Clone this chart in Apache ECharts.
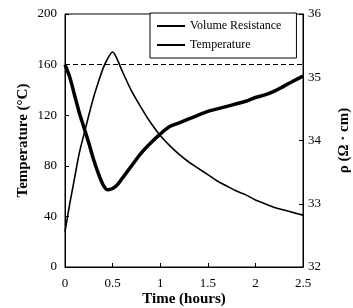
<!DOCTYPE html>
<html>
<head>
<meta charset="utf-8">
<script src="https://cdn.jsdelivr.net/npm/echarts@6/dist/echarts.min.js"></script>
<style>
html, body { margin: 0; padding: 0; background: #fff; }
#chart_1 { width: 353px; height: 308px; }
</style>
</head>
<body>
<div id="chart_1"></div>
<script>
// time axis (hours)
var times = [0, 0.05, 0.1, 0.15, 0.2, 0.25, 0.3, 0.35, 0.4, 0.45, 0.5, 0.55, 0.6, 0.7, 0.8, 0.9,
    1.0, 1.1, 1.2, 1.3, 1.4, 1.5, 1.6, 1.7, 1.8, 1.9, 2.0, 2.1, 2.2, 2.3, 2.4, 2.5];
// temperature (°C), left axis
var temperature = [28, 50, 70, 90, 105, 120, 134, 146, 157, 165, 170, 164, 155, 139, 126, 114,
    104, 96, 89, 83, 78, 73, 68, 64, 60, 57, 53, 50, 47, 45, 43, 41];
// volume resistance rho (ohm cm), right axis
var resistance = [35.20, 35.00, 34.72, 34.44, 34.20, 33.96, 33.70, 33.48, 33.30, 33.22, 33.24, 33.30, 33.40, 33.60, 33.80, 33.96,
    34.10, 34.22, 34.28, 34.34, 34.40, 34.46, 34.50, 34.54, 34.58, 34.62, 34.68, 34.72, 34.78, 34.86, 34.94, 35.02];
var refTemp = 160;

function pairs(xs, ys) {
    var res = [];
    for (var i = 0; i < xs.length; i++) {
        res.push([xs[i], ys[i]]);
    }
    return res;
}

var chart = echarts.init(document.getElementById('chart_1'));
var serif = '"Liberation Serif", "DejaVu Serif", serif';
var option = {
    animation: false,
    textStyle: { fontFamily: serif, color: '#000' },
    grid: {
        left: 65, right: 50, top: 14, bottom: 41,
        outerBoundsMode: 'none',
        containLabel: false,
        show: true, borderColor: '#000', borderWidth: 1
    },
    legend: {
        orient: 'vertical',
        left: 150, top: 13,
        padding: [7, 15, 7, 7],
        itemGap: 7,
        itemWidth: 28, itemHeight: 2,
        borderColor: '#000', borderWidth: 1,
        backgroundColor: '#fff',
        textStyle: { fontFamily: serif, fontSize: 12, color: '#000' },
        data: [
            { name: 'Volume Resistance', icon: 'rect', itemStyle: { color: '#000' } },
            { name: 'Temperature', icon: 'rect', itemStyle: { color: '#000' } }
        ]
    },
    xAxis: {
        type: 'value',
        min: 0, max: 2.5, interval: 0.5,
        name: 'Time (hours)',
        nameLocation: 'middle',
        nameMoveOverlap: false,
        nameGap: 25,
        nameTextStyle: { fontFamily: serif, fontSize: 15, fontWeight: 'bold', color: '#000' },
        axisLine: { lineStyle: { color: '#000', width: 1 } },
        axisTick: { inside: true, length: 4, lineStyle: { color: '#000' } },
        axisLabel: { fontFamily: serif, fontSize: 13, color: '#000', margin: 10 },
        splitLine: { show: false }
    },
    yAxis: [{
        type: 'value',
        min: 0, max: 200, interval: 40,
        name: 'Temperature (°C)',
        nameLocation: 'middle',
        nameMoveOverlap: false,
        nameRotate: 90,
        nameGap: 34,
        nameTextStyle: { fontFamily: serif, fontSize: 15, fontWeight: 'bold', color: '#000' },
        axisLine: { show: true, lineStyle: { color: '#000', width: 1 } },
        axisTick: { show: true, inside: true, length: 4, lineStyle: { color: '#000' } },
        axisLabel: { fontFamily: serif, fontSize: 13, color: '#000', margin: 8 },
        splitLine: { show: false }
    }, {
        type: 'value',
        position: 'right',
        min: 32, max: 36, interval: 1,
        name: 'ρ (Ω · cm)',
        nameLocation: 'middle',
        nameMoveOverlap: false,
        nameRotate: 90,
        nameGap: 34,
        nameTextStyle: { fontFamily: serif, fontSize: 15, fontWeight: 'bold', color: '#000' },
        axisLine: { show: true, lineStyle: { color: '#000', width: 1 } },
        axisTick: { show: true, inside: true, length: 4, lineStyle: { color: '#000' } },
        axisLabel: { fontFamily: serif, fontSize: 13, color: '#000', margin: 5 },
        splitLine: { show: false }
    }],
    series: [{
        name: 'Volume Resistance',
        type: 'line',
        yAxisIndex: 1,
        data: pairs(times, resistance),
        smooth: 0.3,
        symbol: 'none',
        lineStyle: { color: '#000', width: 3.5 },
        itemStyle: { color: '#000' }
    }, {
        name: 'Temperature',
        type: 'line',
        yAxisIndex: 0,
        data: pairs(times, temperature),
        smooth: 0.3,
        symbol: 'none',
        lineStyle: { color: '#000', width: 1.6 },
        itemStyle: { color: '#000' },
        markLine: {
            silent: true,
            symbol: 'none',
            label: { show: false },
            lineStyle: { color: '#000', type: [5, 3], width: 1 },
            data: [{ yAxis: refTemp }]
        }
    }]
};
chart.setOption(option);
</script>
</body>
</html>
